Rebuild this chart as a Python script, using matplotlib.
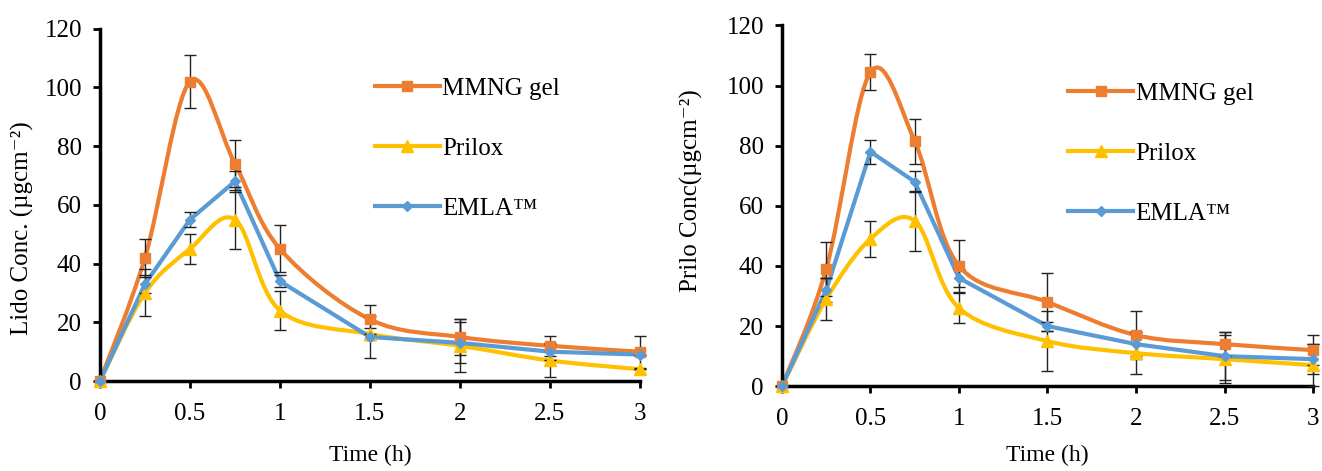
#!/usr/bin/env python
# coding=utf-8
"""
Lidocaine / prilocaine permeation profiles for MMNG gel, Prilox and EMLA
"""

import numpy as np
import matplotlib
matplotlib.use('Agg')
import matplotlib.pyplot as plt
from matplotlib.path import Path
from matplotlib.patches import PathPatch

plt.rcParams['font.family'] = ['Liberation Serif', 'DejaVu Serif']

time_h = [0, 0.25, 0.5, 0.75, 1, 1.5, 2, 2.5, 3]
series_names = ['MMNG gel', 'Prilox', 'EMLA\u2122']

#  Lidocaine (left panel)
lido_mmng = [0, 42, 102, 74, 45, 21, 15, 12, 10]
lido_mmng_err = [0, 6.5, 9, 8, 8, 5, 6, 3.5, 5.5]
lido_prilox = [0, 30, 45, 55, 24, 16, 12, 7, 4]
lido_prilox_err = [0, 8, 5, 10, 6.5, 2, 9, 5.5, 0]
lido_emla = [0, 33, 55, 68, 34, 15, 13, 10, 9]
lido_emla_err = [0, 3, 2.5, 3.5, 2, 7, 7, 3, 0]

#  Prilocaine (right panel)
prilo_mmng = [0, 39, 104.5, 81.5, 40, 28, 17, 14, 12]
prilo_mmng_err = [0, 9, 6, 7.5, 8.5, 9.5, 8, 4, 5]
prilo_prilox = [0, 29, 49, 55, 26, 15, 11, 9, 7]
prilo_prilox_err = [0, 7, 6, 10, 5, 10, 7, 8, 7]
prilo_emla = [0, 32, 78, 68, 36, 20, 14, 10, 9]
prilo_emla_err = [0, 4, 4, 3.5, 3, 1.5, 4, 8, 5]

colors = ['#ED7D31', '#FFC000', '#5B9BD5']
markers = ['s', '^', 'D']
msizes = [7, 8, 5]
smoothed = [True, True, False]


def smooth_path(x, y):
    """Excel-like smoothed line as a Bezier path through the points."""
    pts = np.column_stack([x, y]).astype(float)
    n = len(pts)
    verts = [pts[0]]
    codes = [Path.MOVETO]
    for i in range(n - 1):
        p0 = pts[i - 1] if i > 0 else pts[i]
        p1 = pts[i]
        p2 = pts[i + 1]
        p3 = pts[i + 2] if i + 2 < n else pts[i + 1]
        c1 = p1 + (p2 - p0) / 6.0
        c2 = p2 - (p3 - p1) / 6.0
        verts += [c1, c2, p2]
        codes += [Path.CURVE4] * 3
    return Path(verts, codes)


def draw_panel(ax, data, errs, ylabel, ylabel_xy, xlabel_y, leg_anchor):
    for i in range(3):
        if smoothed[i]:
            patch = PathPatch(smooth_path(time_h, data[i]), facecolor='none',
                              edgecolor=colors[i], lw=3, zorder=2,
                              clip_on=False)
            ax.add_patch(patch)
        else:
            ax.plot(time_h, data[i], color=colors[i], lw=3, zorder=2,
                    clip_on=False)
        ax.errorbar(time_h, data[i], yerr=errs[i], fmt='none',
                    ecolor='#222222', elinewidth=1, capsize=4,
                    capthick=1, zorder=3, clip_on=False)
        ax.plot(time_h, data[i], ls='none', marker=markers[i],
                ms=msizes[i], color=colors[i], zorder=4, clip_on=False)
        #  legend proxy
        ax.plot([], [], color=colors[i], lw=3, marker=markers[i],
                ms=msizes[i], label=series_names[i])

    ax.set_xlim(0, 3)
    ax.set_ylim(0, 120)
    ax.set_xticks([0, 0.5, 1, 1.5, 2, 2.5, 3])
    ax.set_xticklabels(['0', '0.5', '1', '1.5', '2', '2.5', '3'])
    ax.set_yticks(range(0, 121, 20))
    for s in ['top', 'right']:
        ax.spines[s].set_visible(False)
    for s in ['left', 'bottom']:
        ax.spines[s].set_linewidth(2.5)
    ax.tick_params(axis='both', labelsize=18, width=2, length=5,
                   direction='out', pad=8)
    ax.tick_params(axis='x', pad=11)
    ax.set_xlabel('Time (h)', fontsize=17)
    ax.xaxis.set_label_coords(0.5, xlabel_y)
    ax.set_ylabel(ylabel, fontsize=18)
    ax.yaxis.set_label_coords(ylabel_xy[0], ylabel_xy[1])
    ax.legend(loc='upper left', bbox_to_anchor=leg_anchor, frameon=False,
              fontsize=18, labelspacing=1.5, handlelength=2.6,
              handletextpad=0.1, borderaxespad=0)


fig = plt.figure(figsize=(13.22, 4.71), dpi=100)
ax1 = fig.add_axes([0.0756, 0.191, 0.4085, 0.748])
ax2 = fig.add_axes([0.5915, 0.180, 0.4017, 0.766])

draw_panel(ax1, [lido_mmng, lido_prilox, lido_emla],
           [lido_mmng_err, lido_prilox_err, lido_emla_err],
           'Lido Conc. (\u00b5gcm\u207b\u00b2)', (-0.122, 0.434), -0.18,
           (0.49, 0.89))
draw_panel(ax2, [prilo_mmng, prilo_prilox, prilo_emla],
           [prilo_mmng_err, prilo_prilox_err, prilo_emla_err],
           'Prilo Conc(\u00b5gcm\u207b\u00b2)', (-0.149, 0.543), -0.163,
           (0.52, 0.87))

fig.savefig('out.png', dpi=100)
plt.close()
